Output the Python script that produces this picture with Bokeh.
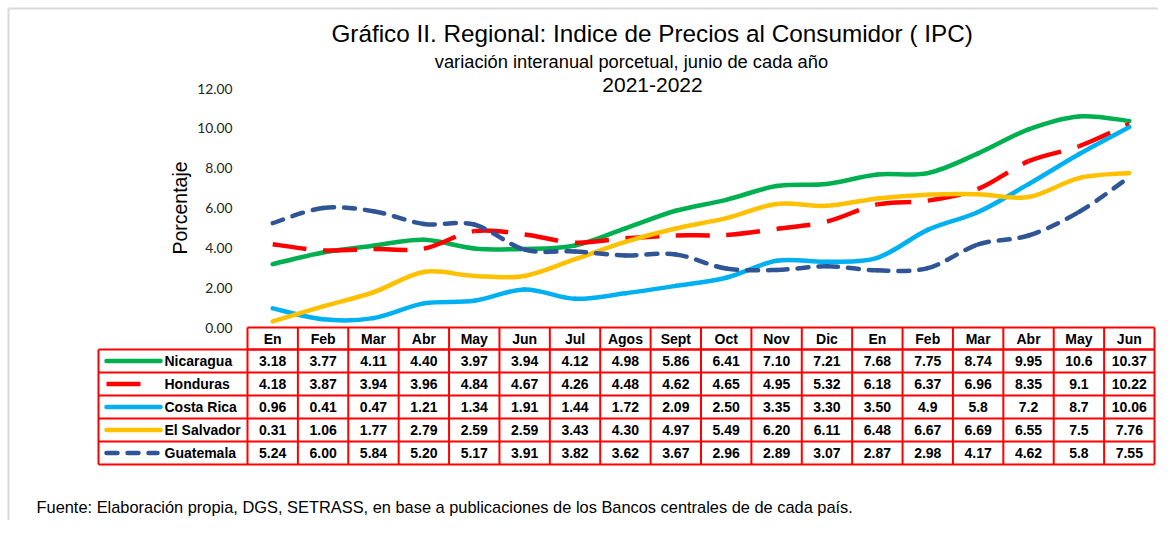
import math
from bokeh.plotting import figure
from bokeh.models import Range1d, FixedTicker, NumeralTickFormatter, ColumnDataSource
from bokeh.embed import file_html
from bokeh.resources import INLINE
from bokeh.core.properties import value

# ---------------- data ----------------
months = ["En", "Feb", "Mar", "Abr", "May", "Jun", "Jul", "Agos", "Sept", "Oct",
          "Nov", "Dic", "En", "Feb", "Mar", "Abr", "May", "Jun"]
countries = ["Nicaragua", "Honduras", "Costa Rica", "El Salvador", "Guatemala"]
nicaragua = ["3.18", "3.77", "4.11", "4.40", "3.97", "3.94", "4.12", "4.98", "5.86", "6.41",
             "7.10", "7.21", "7.68", "7.75", "8.74", "9.95", "10.6", "10.37"]
honduras = ["4.18", "3.87", "3.94", "3.96", "4.84", "4.67", "4.26", "4.48", "4.62", "4.65",
            "4.95", "5.32", "6.18", "6.37", "6.96", "8.35", "9.1", "10.22"]
costa_rica = ["0.96", "0.41", "0.47", "1.21", "1.34", "1.91", "1.44", "1.72", "2.09", "2.50",
              "3.35", "3.30", "3.50", "4.9", "5.8", "7.2", "8.7", "10.06"]
el_salvador = ["0.31", "1.06", "1.77", "2.79", "2.59", "2.59", "3.43", "4.30", "4.97", "5.49",
               "6.20", "6.11", "6.48", "6.67", "6.69", "6.55", "7.5", "7.76"]
guatemala = ["5.24", "6.00", "5.84", "5.20", "5.17", "3.91", "3.82", "3.62", "3.67", "2.96",
             "2.89", "3.07", "2.87", "2.98", "4.17", "4.62", "5.8", "7.55"]
y_ticks = [0, 2, 4, 6, 8, 10, 12]

title_text = "Gráfico II.  Regional: Indice de Precios al Consumidor ( IPC)"
subtitle_text = "variación interanual  porcetual,  junio de cada año"
years_text = "2021-2022"
ylabel_text = "Porcentaje"
footer_text = ("Fuente: Elaboración propia, DGS, SETRASS,  en base a publicaciones "
               "de los Bancos centrales de  de cada país.")

series = [nicaragua, honduras, costa_rica, el_salvador, guatemala]

# ---------------- styles ----------------
colors = ["#00B050", "#FF0000", "#00B0F0", "#FFC000", "#2F5597"]
dashes = ["solid", "34 17", "solid", "solid", "11 10"]
caps = ["round", "butt", "round", "round", "round"]
LW = 4.5
RED = "#FF0000"
FONT = "Liberation Sans"

# ---------------- layout (pixels in the picture) ----------------
W, H = 1158, 520
COL0 = 247.0                      # left edge of first month column
COLW = (1154.0 - 247.0) / 18      # month column width
Y0 = 327.0                        # value 0
PXU = (327.0 - 88.0) / 12         # pixels per value unit
HDR_B = 349.0                     # bottom of header row
ROWH = 23.0                       # data row height
FRAME_L = 4                       # frame starts near the left edge
TICK_R = 232                      # right edge of the y tick labels


def px_x(px):
    return (px - COL0) / COLW


def px_y(py):
    return (Y0 - py) / PXU


n = len(months)
k = len(countries)
xc = [i + 0.5 for i in range(n)]

p = figure(width=W, height=H, output_backend="svg", toolbar_location=None,
           x_range=Range1d(px_x(FRAME_L), px_x(W)),
           y_range=Range1d(px_y(H), px_y(0)),
           x_axis_location=None, title=None,
           min_border_left=FRAME_L, min_border_right=0,
           min_border_top=0, min_border_bottom=0)
p.outline_line_color = None
p.grid.visible = False
p.background_fill_color = "white"
p.border_fill_color = "white"

ax = p.yaxis[0]
ax.ticker = FixedTicker(ticks=y_ticks)
ax.bounds = (y_ticks[0], y_ticks[-1])
ax.formatter = NumeralTickFormatter(format="0.00")
ax.axis_line_color = None
ax.major_tick_line_color = None
ax.minor_tick_line_color = None
ax.major_tick_out = 0
ax.major_tick_in = 0
ax.minor_tick_out = 0
ax.minor_tick_in = 0
ax.major_label_standoff = FRAME_L - TICK_R          # labels sit inside the frame
ax.major_label_text_font = "Lato"
ax.major_label_text_font_size = "13.8px"
ax.major_label_text_color = "#262626"

# y-axis title, centred on the 0-12 value span
p.text(x=[px_x(179)], y=[(y_ticks[0] + y_ticks[-1]) / 2], text=[ylabel_text],
       angle=math.pi / 2, text_font=value(FONT), text_font_size="19.5px",
       text_align="center", text_baseline="middle", text_color="#000000")

# light frame lines at the top and left of the chart area
p.segment(x0=[px_x(8), px_x(8)], y0=[px_y(8), px_y(8)], x1=[px_x(8), px_x(W + 20)],
          y1=[px_y(H + 20), px_y(8)], line_color="#D9D9D9", line_width=2)

# smoothed series (Bezier segments through the data points)
for vals, col, dash, cap in zip(series, colors, dashes, caps):
    ys = [float(v) for v in vals]
    x0, y0, x1, y1, cx0, cy0, cx1, cy1 = [], [], [], [], [], [], [], []
    for i in range(n - 1):
        a = max(i - 1, 0)
        b = min(i + 2, n - 1)
        x0.append(xc[i]); y0.append(ys[i])
        x1.append(xc[i + 1]); y1.append(ys[i + 1])
        cx0.append(xc[i] + (xc[i + 1] - xc[a]) / 6.0)
        cy0.append(ys[i] + (ys[i + 1] - ys[a]) / 6.0)
        cx1.append(xc[i + 1] - (xc[b] - xc[i]) / 6.0)
        cy1.append(ys[i + 1] - (ys[b] - ys[i]) / 6.0)
    src = ColumnDataSource(dict(x0=x0, y0=y0, x1=x1, y1=y1, cx0=cx0, cy0=cy0, cx1=cx1, cy1=cy1))
    p.bezier(x0="x0", y0="y0", x1="x1", y1="y1", cx0="cx0", cy0="cy0", cx1="cx1", cy1="cy1",
             source=src, line_color=col, line_width=LW, line_dash=dash, line_cap=cap)

# ---------------- data table ----------------
top_y = px_y(Y0)
hdr_y = px_y(HDR_B)
row_edges = [px_y(HDR_B + ROWH * r) for r in range(k + 1)]
row_mid = [px_y(HDR_B + ROWH * (r + 0.5)) for r in range(k)]
leg_x0 = px_x(98)

bx0, by0, bx1, by1 = [], [], [], []
for yy in (top_y, hdr_y):
    bx0.append(0); by0.append(yy); bx1.append(n); by1.append(yy)
for c in range(n + 1):
    bx0.append(c); by0.append(top_y); bx1.append(c); by1.append(hdr_y)
for yy in row_edges:
    bx0.append(leg_x0); by0.append(yy); bx1.append(n); by1.append(yy)
for c in [leg_x0] + list(range(n + 1)):
    bx0.append(c); by0.append(row_edges[0]); bx1.append(c); by1.append(row_edges[-1])
p.segment(x0=bx0, y0=by0, x1=bx1, y1=by1, line_color=RED, line_width=2)

p.text(x=xc, y=[(top_y + hdr_y) / 2] * n, text=months, text_font=value(FONT),
       text_font_size="14px", text_font_style="bold", text_align="center",
       text_baseline="middle", text_color="#000000")

for r, (vals, col, dash, cap) in enumerate(zip(series, colors, dashes, caps)):
    p.text(x=xc, y=[row_mid[r]] * n, text=vals, text_font=value(FONT), text_font_size="14px",
           text_font_style="bold", text_align="center", text_baseline="middle",
           text_color="#000000")
    end = 141 if dash == "34 17" else (157 if dash != "solid" else 160)
    p.line(x=[px_x(106), px_x(end)], y=[row_mid[r], row_mid[r]], line_color=col,
           line_width=LW, line_dash=dash, line_cap=cap)

p.text(x=[px_x(164)] * k, y=row_mid, text=countries, text_font=value(FONT),
       text_font_size="14px", text_font_style="bold", text_align="left",
       text_baseline="middle", text_color="#000000")

# ---------------- titles and footer ----------------
p.text(x=[px_x(655)], y=[px_y(33)], text=[title_text], text_font=value(FONT),
       text_font_size="24.3px", text_align="center", text_baseline="middle", text_color="#000000")
p.text(x=[px_x(636)], y=[px_y(61)], text=[subtitle_text], text_font=value(FONT),
       text_font_size="18.3px", text_align="center", text_baseline="middle", text_color="#000000")
p.text(x=[px_x(652)], y=[px_y(84)], text=[years_text], text_font=value(FONT),
       text_font_size="21px", text_align="center", text_baseline="middle", text_color="#000000")
p.text(x=[px_x(36)], y=[px_y(506)], text=[footer_text], text_font=value(FONT),
       text_font_size="16.4px", text_align="left", text_baseline="middle", text_color="#000000")

open("out.html", "w").write(file_html(p, INLINE))
